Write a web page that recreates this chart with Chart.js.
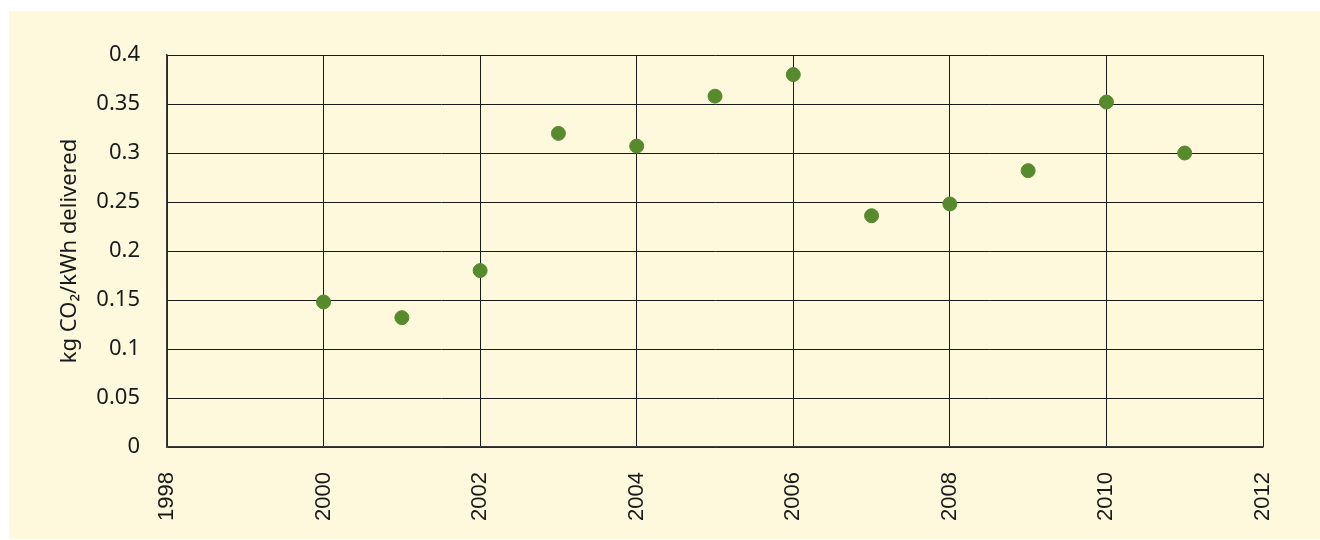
<!DOCTYPE html>
<html>
<head>
<meta charset="utf-8">
<script src="https://cdn.jsdelivr.net/npm/chart.js@4"></script>
<style>
    html, body { margin: 0; padding: 0; background: #ffffff; overflow: hidden; }
    #wrap { width: 1320px; height: 540px; position: relative; }
    #panel { position: absolute; left: 9px; top: 11px; right: -20px; bottom: 1px; background: #fef9dd; }
    #chart { display: block; position: absolute; left: 0; top: 0; }
</style>
</head>
<body>
<div id="wrap">
    <div id="panel"></div>
    <canvas id="chart" width="1320" height="540"></canvas>
</div>
<script>
// Data
const years = [2000, 2001, 2002, 2003, 2004, 2005, 2006, 2007, 2008, 2009, 2010, 2011];
const emissions = [0.148, 0.132, 0.180, 0.320, 0.307, 0.358, 0.380, 0.236, 0.248, 0.282, 0.352, 0.300];

// Axis settings
const xMin = 1998, xMax = 2012, xStep = 2;
const yMin = 0, yMax = 0.4, yStep = 0.05;
const yTitle = 'kg CO\u2082/kWh delivered';

const points = years.map((y, i) => ({ x: y, y: emissions[i] }));

const ctx = document.getElementById('chart').getContext('2d');
new Chart(ctx, {
    type: 'scatter',
    data: {
        datasets: [{
            data: points,
            backgroundColor: '#578a2d',
            borderColor: '#578a2d',
            pointRadius: 7,
            pointHoverRadius: 7
        }]
    },
    options: {
        responsive: false,
        animation: false,
        layout: { padding: { left: 0, top: 55, right: 57, bottom: 0 } },
        plugins: {
            legend: { display: false },
            tooltip: { enabled: false }
        },
        scales: {
            x: {
                type: 'linear',
                min: xMin,
                max: xMax,
                afterFit(scale) { scale.height = 93; },
                grid: { color: '#1a1a1a', lineWidth: 1, drawTicks: false },
                border: { color: '#3a3a3a', width: 1.5 },
                ticks: {
                    stepSize: xStep,
                    minRotation: 90,
                    maxRotation: 90,
                    padding: 25,
                    color: '#1a1a1a',
                    font: { family: 'Liberation Sans', size: 22 },
                    callback: v => String(v)
                }
            },
            y: {
                min: yMin,
                max: yMax,
                afterFit(scale) { scale.width = 167; },
                grid: { color: '#1a1a1a', lineWidth: 1, drawTicks: false },
                border: { color: '#3a3a3a', width: 1.5 },
                ticks: {
                    stepSize: yStep,
                    padding: 27,
                    color: '#1a1a1a',
                    font: { family: 'Noto Sans', size: 22 },
                    callback: v => String(Number(v.toFixed(2)))
                },
                title: {
                    display: true,
                    text: yTitle,
                    color: '#1a1a1a',
                    font: { family: 'Noto Sans', size: 22 },
                    padding: { top: 57, bottom: 0 }
                }
            }
        }
    }
});
</script>
</body>
</html>
